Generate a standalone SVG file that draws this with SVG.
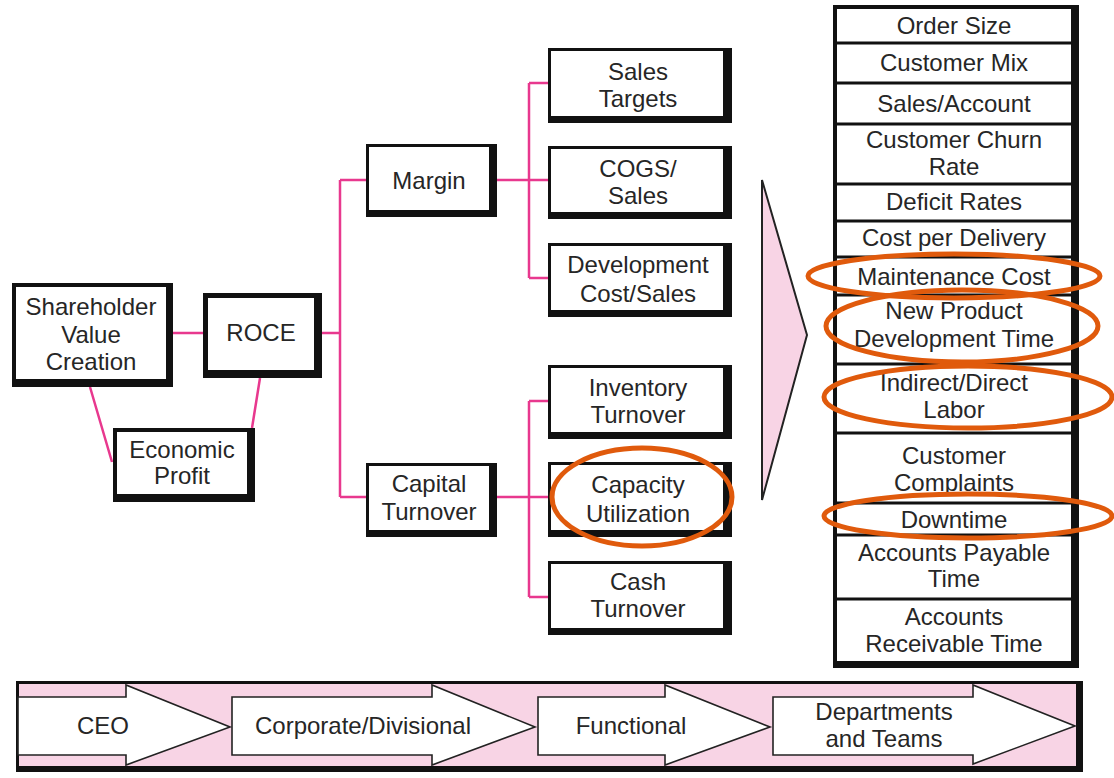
<svg xmlns="http://www.w3.org/2000/svg" width="1114" height="778" viewBox="0 0 1114 778">
<style>
text{font-family:"Liberation Sans",Arial,sans-serif;font-size:24px;fill:#262626;text-anchor:middle}
.sh{fill:#111}
.bx{fill:#fff}
.ln{stroke:#e8388e;stroke-width:2.5;fill:none}
.ring{fill:none;stroke:#e05a0c;stroke-width:5}
.arw{fill:#fff;stroke:#222;stroke-width:1.6}
.div{stroke:#111;stroke-width:3}
</style>
<rect width="1114" height="778" fill="#fff"/>
<g id="connectors">
<path class="ln" d="M173 333H203M322 333H340M340 180V497M340 180H366M340 497H366"/>
<path class="ln" d="M90 387L112 462M260 378L252 428"/>
<path class="ln" d="M497 180H548M529 83V278M529 83H548M529 278H548"/>
<path class="ln" d="M497 497H548M529 401V597M529 401H548M529 597H548"/>
</g>
<g id="shareholder"><rect class="sh" x="12" y="283" width="161" height="104"/><rect class="bx" x="16" y="287" width="150" height="92"/>
<text x="91" y="315">Shareholder</text><text x="91" y="343">Value</text><text x="91" y="370">Creation</text></g>
<g id="roce"><rect class="sh" x="203" y="293" width="119" height="85"/><rect class="bx" x="208" y="298" width="106" height="72"/>
<text x="261" y="341">ROCE</text></g>
<g id="economic-profit"><rect class="sh" x="113" y="428" width="142" height="74"/><rect class="bx" x="117" y="432" width="130" height="62"/>
<text x="182" y="458">Economic</text><text x="182" y="484">Profit</text></g>
<g id="margin"><rect class="sh" x="366" y="144" width="131" height="73"/><rect class="bx" x="369" y="147" width="120" height="63"/>
<text x="429" y="189">Margin</text></g>
<g id="capital-turnover"><rect class="sh" x="366" y="463" width="131" height="74"/><rect class="bx" x="369" y="466" width="120" height="64"/>
<text x="429" y="492">Capital</text><text x="429" y="520">Turnover</text></g>
<g id="sales-targets"><rect class="sh" x="548" y="48" width="184" height="75"/><rect class="bx" x="551" y="51" width="172" height="65"/>
<text x="638" y="80">Sales</text><text x="638" y="107">Targets</text></g>
<g id="cogs-sales"><rect class="sh" x="548" y="146" width="184" height="73"/><rect class="bx" x="551" y="149" width="172" height="63"/>
<text x="638" y="177">COGS/</text><text x="638" y="204">Sales</text></g>
<g id="dev-cost-sales"><rect class="sh" x="548" y="243" width="184" height="74"/><rect class="bx" x="551" y="246" width="172" height="64"/>
<text x="638" y="273">Development</text><text x="638" y="302">Cost/Sales</text></g>
<g id="inventory-turnover"><rect class="sh" x="548" y="365" width="184" height="74"/><rect class="bx" x="551" y="368" width="172" height="64"/>
<text x="638" y="396">Inventory</text><text x="638" y="423">Turnover</text></g>
<g id="capacity-utilization"><rect class="sh" x="548" y="462" width="184" height="75"/><rect class="bx" x="551" y="465" width="172" height="65"/>
<text x="638" y="493">Capacity</text><text x="638" y="522">Utilization</text></g>
<g id="cash-turnover"><rect class="sh" x="548" y="561" width="184" height="74"/><rect class="bx" x="551" y="564" width="172" height="64"/>
<text x="638" y="590">Cash</text><text x="638" y="617">Turnover</text></g>
<g id="big-arrow"><polygon points="762,180 807,335 762,500" fill="#f8d4e5" stroke="#222" stroke-width="2"/></g>
<g id="measures">
<rect class="sh" x="833" y="5" width="246" height="663"/>
<rect class="bx" x="837" y="9" width="234" height="652"/>
<path class="div" d="M837 43H1071M837 83H1071M837 124H1071M837 184H1071M837 221H1071M837 257H1071M837 295H1071M837 364H1071M837 433H1071M837 503H1071M837 535H1071M837 599H1071"/>
<text x="954" y="34">Order Size</text>
<text x="954" y="71">Customer Mix</text>
<text x="954" y="112">Sales/Account</text>
<text x="954" y="148">Customer Churn</text><text x="954" y="175">Rate</text>
<text x="954" y="210">Deficit Rates</text>
<text x="954" y="246">Cost per Delivery</text>
<text x="954" y="285">Maintenance Cost</text>
<text x="954" y="319">New Product</text><text x="954" y="347">Development Time</text>
<text x="954" y="391">Indirect/Direct</text><text x="954" y="418">Labor</text>
<text x="954" y="464">Customer</text><text x="954" y="491">Complaints</text>
<text x="954" y="528">Downtime</text>
<text x="954" y="561">Accounts Payable</text><text x="954" y="587">Time</text>
<text x="954" y="625">Accounts</text><text x="954" y="652">Receivable Time</text>
</g>
<g id="highlights">
<ellipse class="ring" cx="642" cy="497" rx="90" ry="49"/>
<ellipse class="ring" cx="954" cy="276" rx="146" ry="22"/>
<ellipse class="ring" cx="962" cy="326" rx="136" ry="36"/>
<ellipse class="ring" cx="968" cy="397" rx="144" ry="31"/>
<ellipse class="ring" cx="968" cy="516" rx="144" ry="22"/>
</g>
<g id="levels">
<rect class="sh" x="16" y="681" width="1067" height="91"/>
<rect x="19" y="684" width="1057" height="82" fill="#f8d4e5"/>
<polygon class="arw" points="18,697 126,697 126,685 230,727 126,765 126,755 18,755"/>
<polygon class="arw" points="232,697 432,697 432,685 535,727 432,765 432,755 232,755"/>
<polygon class="arw" points="538,697 665,697 665,685 770,727 665,765 665,755 538,755"/>
<polygon class="arw" points="773,697 973,697 973,685 1075,726 973,764 973,755 773,755"/>
<text x="103" y="734">CEO</text>
<text x="363" y="734">Corporate/Divisional</text>
<text x="631" y="734">Functional</text>
<text x="884" y="720">Departments</text>
<text x="884" y="747">and Teams</text>
</g>
</svg>
